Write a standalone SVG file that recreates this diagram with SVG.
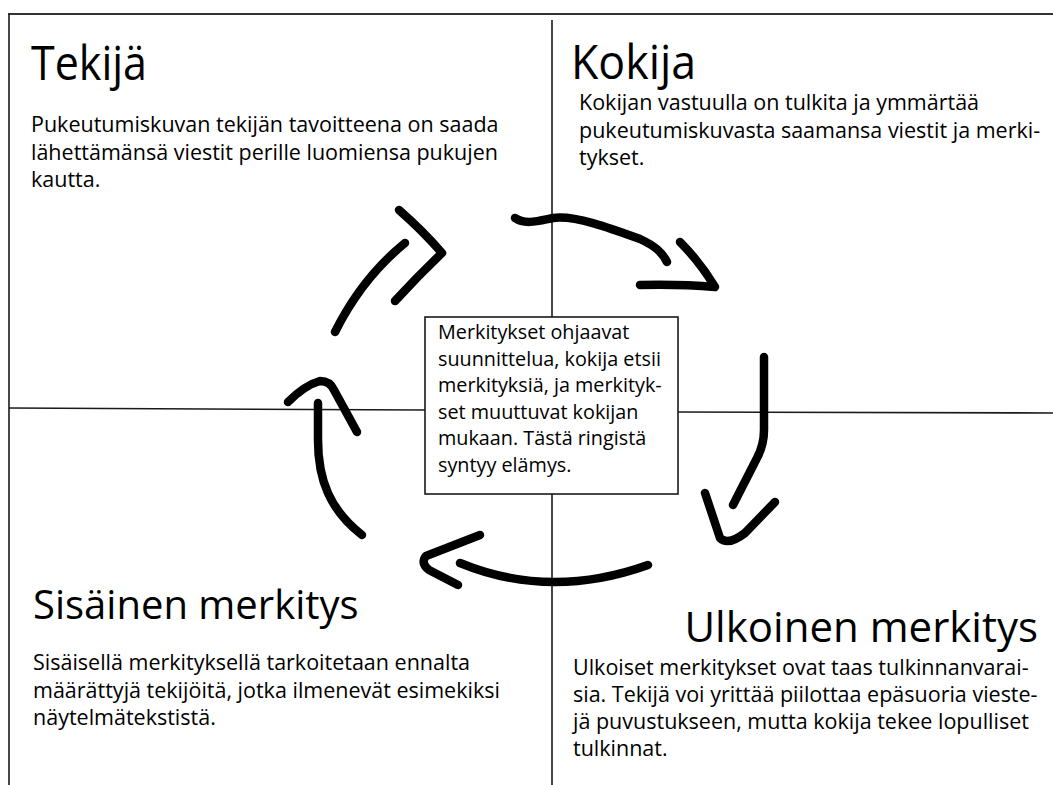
<svg xmlns="http://www.w3.org/2000/svg" width="1053" height="785" viewBox="0 0 1053 785">
<style>
  .rule { stroke: #1a1a1a; stroke-width: 1.6; fill: none; }
  .title { font-family: "Open Sans", "Liberation Sans", sans-serif; fill: #000; }
  .body { font-family: "Open Sans", "Liberation Sans", sans-serif; font-size: 21.5px; fill: #000; }
  .center { font-family: "Open Sans", "Liberation Sans", sans-serif; font-size: 19.8px; fill: #000; }
  .arrow { stroke: #000; stroke-width: 8.5; fill: none; stroke-linecap: round; stroke-linejoin: round; }
</style>
<rect x="0" y="0" width="1053" height="785" fill="#fff"/>
<g id="frame">
  <line class="rule" x1="8" y1="14" x2="1053" y2="14" style="stroke:#333;stroke-width:2"/>
  <line class="rule" x1="9" y1="14" x2="9" y2="785"/>
  <line class="rule" x1="552" y1="20" x2="552" y2="317"/>
  <line class="rule" x1="552" y1="494" x2="552" y2="785"/>
  <line class="rule" x1="9" y1="408" x2="425" y2="410"/>
  <line class="rule" x1="678" y1="412" x2="1053" y2="413"/>
</g>
<g id="node-tekija">
  <text class="title" x="31" y="80" font-size="47" textLength="116" lengthAdjust="spacingAndGlyphs">Tekijä</text>
  <text class="body" x="31" y="132">Pukeutumiskuvan tekijän tavoitteena on saada</text>
  <text class="body" x="31" y="160">lähettämänsä viestit perille luomiensa pukujen</text>
  <text class="body" x="31" y="187">kautta.</text>
</g>
<g id="node-kokija">
  <text class="title" x="571" y="79" font-size="47" textLength="125" lengthAdjust="spacingAndGlyphs">Kokija</text>
  <text class="body" x="579" y="110">Kokijan vastuulla on tulkita ja ymmärtää</text>
  <text class="body" x="579" y="138">pukeutumiskuvasta saamansa viestit ja merki-</text>
  <text class="body" x="579" y="165">tykset.</text>
</g>
<g id="node-sisainen">
  <text class="title" x="33" y="619" font-size="40">Sisäinen merkitys</text>
  <text class="body" x="33" y="670">Sisäisellä merkityksellä tarkoitetaan ennalta</text>
  <text class="body" x="33" y="698">määrättyjä tekijöitä, jotka ilmenevät esimekiksi</text>
  <text class="body" x="33" y="725">näytelmätekstistä.</text>
</g>
<g id="node-ulkoinen">
  <text class="title" x="1038" y="642" font-size="42" text-anchor="end">Ulkoinen merkitys</text>
  <text class="body" x="573" y="675">Ulkoiset merkitykset ovat taas tulkinnanvarai-</text>
  <text class="body" x="573" y="702">sia. Tekijä voi yrittää piilottaa epäsuoria vieste-</text>
  <text class="body" x="573" y="729">jä puvustukseen, mutta kokija tekee lopulliset</text>
  <text class="body" x="573" y="756">tulkinnat.</text>
</g>
<g id="node-center">
  <rect x="425" y="317" width="253" height="177" fill="#fff" stroke="#1a1a1a" stroke-width="1.6"/>
  <text class="center" x="438" y="339">Merkitykset ohjaavat</text>
  <text class="center" x="438" y="366">suunnittelua, kokija etsii</text>
  <text class="center" x="438" y="392">merkityksiä, ja merkityk-</text>
  <text class="center" x="438" y="419">set muuttuvat kokijan</text>
  <text class="center" x="438" y="445">mukaan. Tästä ringistä</text>
  <text class="center" x="438" y="472">syntyy elämys.</text>
</g>
<g id="connectors">
  <path class="arrow" d="M335,332 Q362,278 405,243"/>
  <path class="arrow" d="M399,210 Q423,231 442,253 Q418,276 395,301"/>
  <path class="arrow" d="M515,218 C525,225 538,221 553,218 C575,215 610,228 640,239 C655,246 662,252 667,262"/>
  <path class="arrow" d="M680,242 Q700,262 715,287 Q680,284 640,285"/>
  <path class="arrow" d="M764,357 L764,430 Q764,445 757,458 L733,505"/>
  <path class="arrow" d="M705,493 L720,538 Q728,546 745,533 L775,502"/>
  <path class="arrow" d="M648,565 Q550,600 460,563"/>
  <path class="arrow" d="M480,535 L426,556 Q420,563 429,570 L458,585"/>
  <path class="arrow" d="M362,535 C330,510 318,480 318,440 L318,403"/>
  <path class="arrow" d="M288,402 Q305,385 320,381 Q330,381 334,390 L357,432"/>
</g>
</svg>
